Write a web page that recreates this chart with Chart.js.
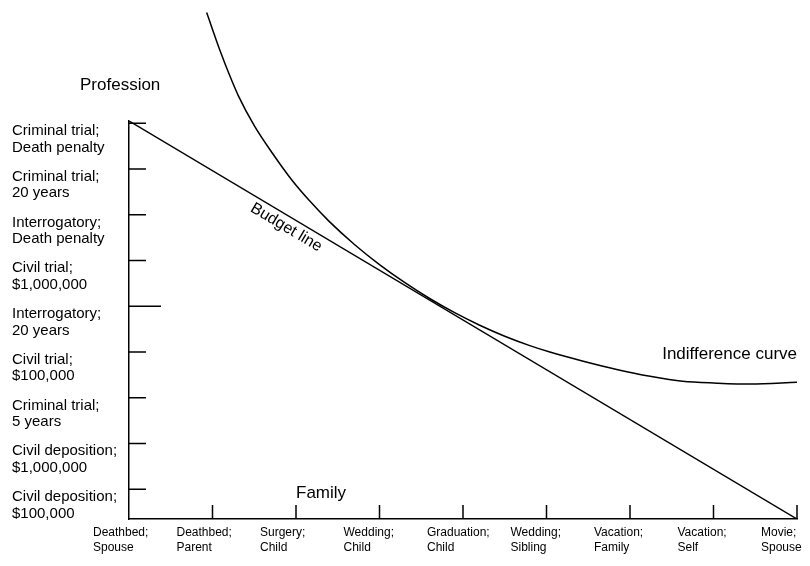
<!DOCTYPE html>
<html><head><meta charset="utf-8">
<script src="https://cdn.jsdelivr.net/npm/chart.js@4"></script>
<style>html,body{margin:0;padding:0;background:#fff}</style>
</head><body>
<canvas id="c" width="810" height="566"></canvas>
<script>
// Profession categories (y axis), listed bottom to top
const professionLabels = [
  ["Civil deposition;", "$100,000"],
  ["Civil deposition;", "$1,000,000"],
  ["Criminal trial;", "5 years"],
  ["Civil trial;", "$100,000"],
  ["Interrogatory;", "20 years"],
  ["Civil trial;", "$1,000,000"],
  ["Interrogatory;", "Death penalty"],
  ["Criminal trial;", "20 years"],
  ["Criminal trial;", "Death penalty"]
];
// Family categories (x axis), left to right
const familyLabels = [
  ["Deathbed;", "Spouse"],
  ["Deathbed;", "Parent"],
  ["Surgery;", "Child"],
  ["Wedding;", "Child"],
  ["Graduation;", "Child"],
  ["Wedding;", "Sibling"],
  ["Vacation;", "Family"],
  ["Vacation;", "Self"],
  ["Movie;", "Spouse"]
];
// axis tick values (scale units)
const xTickMarks = [1, 2, 3, 4, 5, 6, 7, 8];
const yTickMarks = [0.65, 1.65, 2.65, 3.65, 4.65, 5.65, 6.65, 7.65, 8.65];
const yLabelValues = [0.3, 1.3, 2.3, 3.3, 4.3, 5.3, 6.3, 7.3, 8.3];
const yMax = 8.7;
// Budget line
const budgetX = [0, 8];
const budgetY = [8.7, 0];
// Indifference curve
const curveX = [0.93, 1.1, 1.2, 1.31, 1.5, 1.72, 1.95, 2.16, 2.4, 2.7, 3.0, 3.3, 3.6, 3.9, 4.2, 4.5, 4.8, 5.04, 5.44, 5.84, 6.24, 6.63, 7.04, 7.44, 8.0];
const curveY = [11.07, 10.19, 9.72, 9.25, 8.6, 7.99, 7.41, 6.96, 6.5, 6.0, 5.56, 5.17, 4.82, 4.51, 4.235, 3.995, 3.79, 3.65, 3.45, 3.27, 3.12, 3.01, 2.97, 2.95, 2.99];

const FONT = "'Liberation Sans', Arial, Helvetica, sans-serif";

const decor = {
  id: 'decor',
  afterDraw(chart) {
    const ctx = chart.ctx, xs = chart.scales.x, ys = chart.scales.y;
    ctx.save();
    ctx.strokeStyle = '#000';
    ctx.lineWidth = 1.5;
    ctx.beginPath();
    xTickMarks.forEach(v => {
      const px = xs.getPixelForValue(v);
      ctx.moveTo(px, xs.top); ctx.lineTo(px, xs.top - 14);
    });
    yTickMarks.forEach((v, i) => {
      const py = ys.getPixelForValue(v);
      ctx.moveTo(ys.right, py); ctx.lineTo(ys.right + (i === 4 ? 32 : 17), py);
    });
    ctx.stroke();
    ctx.fillStyle = '#000';
    ctx.textBaseline = 'alphabetic';
    ctx.font = '17px ' + FONT;
    ctx.textAlign = 'left';
    ctx.fillText('Profession', 80, 90);
    ctx.fillText('Family', 296, 498);
    ctx.textAlign = 'right';
    ctx.fillText('Indifference curve', 797, 359);
    // Budget line label, rotated along the line
    const x0 = xs.getPixelForValue(budgetX[0]), y0 = ys.getPixelForValue(budgetY[0]);
    const x1 = xs.getPixelForValue(budgetX[1]), y1 = ys.getPixelForValue(budgetY[1]);
    const ang = Math.atan2(y1 - y0, x1 - x0);
    const ax = xs.getPixelForValue(1.95);
    const ay = y0 + (ax - x0) * Math.tan(ang);
    ctx.translate(ax - 11 * Math.sin(ang), ay + 11 * Math.cos(ang));
    ctx.rotate(ang);
    ctx.textAlign = 'center';
    ctx.textBaseline = 'middle';
    ctx.font = '16px ' + FONT;
    ctx.fillText('Budget line', 0, 0);
    ctx.restore();
  }
};

new Chart(document.getElementById('c'), {
  type: 'scatter',
  data: {
    datasets: [
      {
        label: 'Budget line',
        data: budgetX.map((x, i) => ({x, y: budgetY[i]})),
        showLine: true, borderColor: '#000', borderWidth: 1.5, pointRadius: 0, tension: 0
      },
      {
        label: 'Indifference curve',
        data: curveX.map((x, i) => ({x, y: curveY[i]})),
        showLine: true, borderColor: '#000', borderWidth: 1.5, pointRadius: 0,
        cubicInterpolationMode: 'monotone', clip: false
      }
    ]
  },
  options: {
    responsive: false, animation: false,
    layout: {padding: {left: 12, right: 13, top: 121, bottom: 0}},
    plugins: {legend: {display: false}, tooltip: {enabled: false}},
    scales: {
      x: {
        type: 'linear', min: 0, max: 8,
        grid: {display: false, drawTicks: false},
        border: {display: true, color: '#000', width: 1.5},
        afterBuildTicks: s => { s.ticks = familyLabels.map((_, i) => ({value: i})); },
        afterFit: s => { s.height = 47; s.paddingLeft = 0; s.paddingRight = 0; },
        ticks: {
          autoSkip: false, maxRotation: 0, minRotation: 0, align: 'start', labelOffset: -36,
          padding: 6, color: '#000',
          font: {family: FONT, size: 12, lineHeight: 1.25},
          callback: (v) => familyLabels[Math.round(v)]
        }
      },
      y: {
        type: 'linear', min: 0, max: yMax,
        grid: {display: false, drawTicks: false},
        border: {display: true, color: '#000', width: 1.5},
        afterBuildTicks: s => { s.ticks = yLabelValues.map(v => ({value: v})); },
        afterFit: s => { s.width = 117; s.paddingTop = 0; s.paddingBottom = 0; },
        ticks: {
          autoSkip: false, crossAlign: 'far', padding: 0, color: '#000',
          font: {family: FONT, size: 15, lineHeight: 1.1},
          callback: (v, i) => professionLabels[i]
        }
      }
    }
  },
  plugins: [decor]
});
</script>
</body></html>
